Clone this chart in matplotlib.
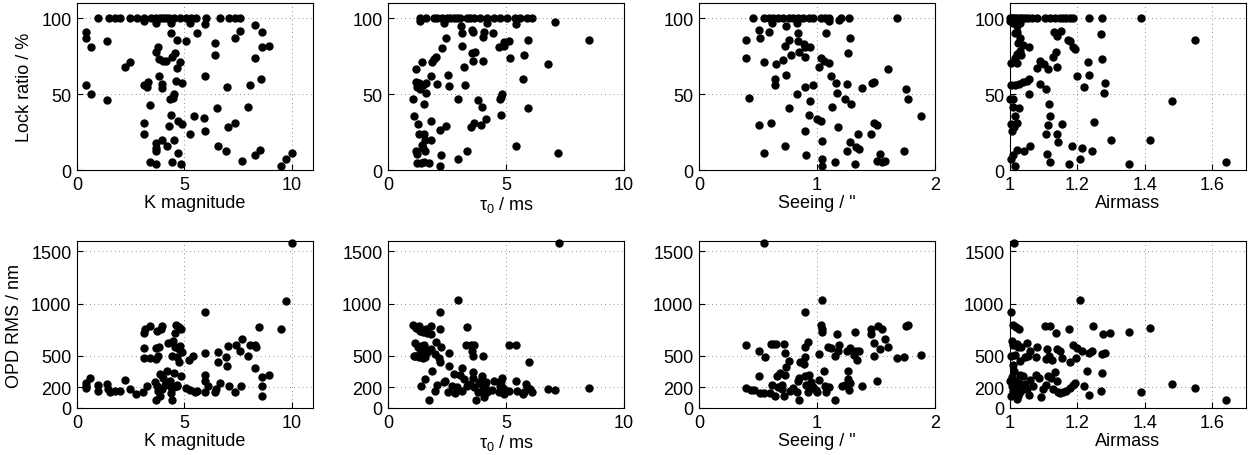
import matplotlib
matplotlib.use("Agg")
import matplotlib.pyplot as plt

plt.rcParams['font.family'] = ['Liberation Sans', 'DejaVu Sans']
plt.rcParams['mathtext.fontset'] = 'custom'
plt.rcParams['mathtext.rm'] = 'Liberation Sans'
plt.rcParams['mathtext.it'] = 'Liberation Sans'
plt.rcParams['font.size'] = 13

# ---- Lock ratio vs K magnitude
lock_k_x = [1.0, 1.5, 1.77, 2.0, 2.46, 2.78, 3.1, 3.47, 3.7, 3.86, 4.0, 4.17, 4.3, 4.5, 4.8, 5.1, 5.33, 5.56, 6.0, 6.65, 7.1, 7.35, 7.6,
            3.1, 3.7, 4.4, 5.26, 5.95,
            0.42, 0.42, 0.64, 0.42, 0.64, 1.38, 1.38, 2.23, 2.46, 3.1, 3.24, 3.3, 3.4, 3.1, 3.1, 3.4, 3.7, 3.67, 3.7, 3.7, 3.98, 4.2,
            3.78, 3.7, 3.8, 4.0, 4.17, 3.83, 3.94, 3.94, 4.33, 4.48, 4.53, 4.6, 4.9, 4.37, 4.64, 4.56, 4.45, 4.8, 4.67, 4.36, 4.28,
            4.71, 4.88, 4.54, 4.73, 4.43, 4.84, 5.1, 5.57, 5.26, 5.44, 5.92, 5.95, 5.98, 6.42, 6.45, 6.53, 6.55, 7.0, 7.04, 7.38,
            6.93, 7.35, 7.6, 7.69, 8.05, 7.98, 8.31, 8.3, 8.6, 8.57, 8.6, 8.95, 8.3, 8.52, 9.52, 9.75, 10.0]
lock_k_y = [100] * 23 + [98, 97, 97, 97, 96,
            91, 87, 81, 56, 50, 85, 46, 68, 71, 56, 55, 58, 43, 31, 24, 5.5, 4, 18, 14.5, 12.5, 19.5, 16,
            81, 78, 73, 72, 72, 62, 56.5, 54, 47, 47.5, 50, 58.5, 57.6, 90.5, 85.5, 77, 74.7, 71, 67, 36, 29,
            32, 30, 19.5, 11, 5, 4, 85, 90, 24, 35.6, 34, 26, 62, 83.5, 76, 41, 15.6, 55, 28, 31,
            12.3, 87, 91.6, 5.7, 55.8, 41.5, 95.4, 73.8, 91, 59.8, 81.3, 81.8, 10, 13, 2.4, 7.3, 11.4]

# ---- Lock ratio vs tau0
lock_t_x = [1.34, 1.62, 1.96, 2.07, 2.29, 2.5, 2.64, 2.78, 2.92, 3.07, 3.35, 3.49, 3.63, 3.91, 4.19, 4.48, 4.76, 5.04, 5.39, 5.6, 5.89, 6.1,
            1.34, 2.36, 4.19, 5.44, 7.09,
            3.1, 3.13, 3.56, 3.6, 4.05, 4.02, 4.44, 2.46, 3.13, 2.29, 2.05, 1.94, 1.85, 1.44, 1.2, 3.2, 3.6, 3.58, 3.7, 4.02,
            4.72, 4.9, 5.14, 4.92, 5.92, 5.77, 5.18, 6.76, 8.5, 5.74, 1.17, 1.31, 1.25, 1.37, 1.48, 1.62, 1.82, 2.07, 2.55, 2.58,
            3.25, 1.04, 1.6, 1.51, 2.98, 3.82, 3.99, 4.8, 4.76, 4.83, 5.95, 1.11, 1.28, 1.83, 2.44, 2.19, 3.63, 3.51, 3.95, 4.15,
            4.78, 1.33, 1.51, 1.55, 1.83, 1.44, 1.48, 1.2, 1.58, 1.25, 2.25, 3.33, 2.96, 1.25, 1.4, 1.51, 1.72, 2.22, 5.42, 7.22]
lock_t_y = [100] * 22 + [98, 97, 97, 96, 97.6,
            95, 90, 92, 91, 91, 87.5, 90, 87, 82, 80.4, 74.7, 73, 71.4, 71, 66.8, 68, 72, 77, 77.6, 72,
            81, 81.8, 85, 84, 85.5, 76, 74, 70, 85.5, 59.8, 58, 57, 55, 53.6, 56, 57.6, 62, 56.5, 62.4, 55.4,
            55.8, 47, 50.8, 43.3, 47, 46, 41.5, 48.4, 46.8, 50.3, 41, 35.6, 30.5, 32, 29, 26.4, 30.8, 28, 29.6, 33.6,
            36, 23.7, 23.7, 19.6, 19.6, 16.5, 14.7, 12.3, 12.3, 10.3, 10, 12.5, 7.5, 4.4, 4.4, 5.3, 4.8, 2.4, 15.8, 11.4]

# ---- Lock ratio vs seeing
lock_s_x = [0.46, 0.55, 0.59, 0.63, 0.67, 0.71, 0.76, 0.8, 0.84, 0.88, 0.93, 0.97, 1.03, 1.07, 1.1, 1.2, 1.27, 1.68,
            0.62, 0.74, 0.83, 1.1, 1.19,
            0.4, 0.51, 0.52, 0.59, 0.4, 0.55, 0.65, 0.71, 0.73, 0.76, 0.78, 0.84, 0.84, 0.85, 0.89, 0.9, 0.94, 0.9, 1.08, 1.02,
            1.03, 1.06, 1.1, 1.28, 1.26, 1.12, 1.16, 1.17, 1.24, 1.25, 1.38, 1.47, 1.48, 1.6, 1.75, 1.77, 1.88, 0.42, 0.64, 0.64,
            0.74, 0.9, 0.97, 0.83, 0.94, 0.76, 1.13, 1.29, 0.51, 0.61, 0.93, 1.0, 1.03, 0.9, 1.18, 1.46, 1.48, 1.51, 1.35, 1.28,
            1.33, 1.36, 1.25, 1.74, 0.73, 1.04, 0.55, 0.91, 1.04, 1.04, 1.15, 1.32, 1.53, 1.51, 1.55, 1.58]
lock_s_y = [100] * 18 + [97, 95, 97, 98, 98.5,
            85.7, 92, 87, 91, 74, 71, 70, 72.3, 81.8, 85.5, 75.8, 90.5, 85, 77.8, 83.3, 81, 81, 74.5, 90, 67.7,
            73.8, 72, 70.8, 86.8, 77, 62, 57.6, 50.8, 46.6, 56.5, 54.3, 57, 58, 66.8, 53.6, 46.8, 35.6, 47.3, 59.8, 55.8,
            62.4, 55, 56.3, 50, 45.7, 41, 41.5, 43.3, 29.7, 30.8, 36, 33.8, 32.3, 25.7, 28, 23.7, 30.8, 29.5, 23.7, 18.5,
            15.4, 14, 12.3, 12.5, 15.8, 19.3, 11.4, 10, 7.5, 2.6, 5, 4, 10.8, 6, 5, 6]

# ---- Lock ratio vs airmass
lock_a_x = [1.0, 1.005, 1.01, 1.015, 1.022, 1.03, 1.037, 1.044, 1.054, 1.064, 1.079, 1.103, 1.118, 1.133, 1.148, 1.158, 1.167,
            1.177, 1.187, 1.234, 1.273, 1.389,
            1.0, 1.01, 1.03, 1.02, 1.015, 1.022,
            1.03, 1.025, 1.039, 1.056, 1.03, 1.022, 1.034, 1.015, 1.002, 1.022, 1.089, 1.101, 1.081, 1.113, 1.13, 1.14, 1.15,
            1.136, 1.128, 1.14, 1.173, 1.178, 1.187, 1.194, 1.2, 1.23, 1.233, 1.22, 1.274, 1.271, 1.283, 1.278, 1.3, 1.414,
            1.481, 1.549, 1.64, 1.352, 1.002, 1.015, 1.028, 1.039, 1.051, 1.056, 1.056, 1.089, 1.108, 1.115, 1.119, 1.113,
            1.106, 1.14, 1.141, 1.153, 1.0, 1.008, 1.01, 1.028, 1.015, 1.003, 1.013, 1.022, 1.005, 1.02, 1.01, 1.041, 1.059,
            1.003, 1.015, 1.11, 1.12, 1.175, 1.185, 1.207, 1.215, 1.244, 1.248]
lock_a_y = [100] * 22 + [98, 97, 97, 95, 90.5, 91,
            87, 83.5, 82.4, 81, 78.5, 76.3, 75.8, 74, 70.8, 70.8, 72, 70, 67, 66.8, 91, 88, 91.6,
            77.4, 74.5, 68, 85.5, 85, 81, 80, 62, 71.4, 62.4, 54.7, 73.4, 89.5, 57.6, 50.5, 19.8, 19.8,
            45.5, 85.5, 5, 4, 55.8, 55.8, 56.5, 58, 58.7, 60, 50, 56.5, 53.6, 43.3, 35.8, 29.5,
            23.7, 23.7, 18.7, 30.5, 47, 47, 41.5, 41, 35.6, 30, 28.4, 30.8, 25.7, 13, 10, 12.3, 15.6,
            7, 2.6, 10.8, 5.5, 4.2, 15.8, 7.5, 14.3, 12.3, 31.9]

# ---- OPD RMS vs K magnitude
opd_k_x = [10.0, 9.75, 9.52, 8.5, 5.98, 0.4, 0.4, 0.6, 0.42, 1.0, 1.0, 1.38, 1.43, 1.55, 1.77, 2.0, 2.22, 2.46, 2.74, 3.08,
           3.24, 3.1, 3.13, 3.1, 3.18, 3.4, 3.4, 3.73, 3.7, 3.83, 3.95, 3.9, 3.78, 3.66, 3.67, 3.63, 3.74, 3.78, 3.86, 3.89,
           3.94, 4.0, 4.1, 4.19, 4.25, 4.33, 4.36, 4.4, 4.45, 4.45, 4.48, 4.5, 4.54, 4.56, 4.6, 4.56, 4.67, 4.68, 4.74, 4.74,
           4.79, 4.76, 4.87, 4.91, 4.87, 4.64, 5.1, 5.26, 5.23, 5.41, 5.49, 5.61, 5.97, 5.98, 5.98, 5.98, 6.1, 6.42, 6.5,
           6.57, 6.57, 6.65, 7.04, 6.96, 7.0, 7.09, 7.35, 7.4, 7.6, 7.63, 7.67, 7.97, 8.05, 8.28, 8.33, 8.28, 8.6, 8.6, 8.6, 8.95]
opd_k_y = [1578, 1029, 757, 773, 920, 236, 192, 288, 214, 224, 163, 230, 182, 150, 160, 163, 265, 182, 134, 153,
           214, 575, 480, 719, 757, 783, 480, 735, 575, 582, 783, 757, 502, 470, 80, 246, 214, 160, 112, 326,
           182, 288, 224, 355, 623, 262, 198, 144, 80, 502, 646, 335, 198, 588, 792, 716, 224, 486, 780, 566,
           598, 438, 757, 534, 310, 214, 192, 176, 463, 502, 157, 166, 150, 524, 320, 256, 214, 157, 182,
           444, 540, 240, 598, 486, 406, 214, 150, 604, 550, 214, 661, 502, 607, 604, 588, 383, 294, 214, 112, 316]

# ---- OPD RMS vs tau0
opd_t_x = [7.23, 2.95, 2.19, 3.33, 1.05, 1.3, 1.19, 1.34, 1.48, 1.62, 1.84, 1.65, 2.22, 1.82, 1.16, 1.26, 1.41, 1.51, 1.58,
           1.44, 1.37, 1.09, 1.16, 1.3, 1.48, 1.58, 1.65, 1.84, 2.05, 2.26, 2.0, 2.15, 2.22, 2.57, 2.57, 1.86, 1.55, 1.4, 1.72,
           1.98, 2.07, 2.36, 2.43, 2.54, 2.71, 2.78, 2.82, 2.92, 3.04, 3.13, 3.14, 3.21, 3.29, 3.35, 3.49, 3.52, 3.55, 3.59,
           3.59, 3.59, 3.63, 3.66, 3.73, 3.81, 3.84, 3.93, 3.98, 4.01, 4.03, 4.05, 4.12, 4.15, 4.19, 4.41, 4.48, 4.69, 4.73,
           4.8, 4.83, 4.83, 4.9, 4.93, 5.11, 5.14, 5.44, 5.44, 5.47, 5.71, 5.78, 5.86, 5.89, 5.96, 6.03, 6.1, 6.77, 7.09, 8.52]
opd_t_y = [1578, 1032, 920, 773, 796, 789, 764, 741, 725, 757, 789, 719, 757, 709, 620, 588, 598, 607, 566,
           550, 524, 502, 495, 486, 480, 486, 534, 566, 629, 588, 518, 476, 438, 524, 406, 351, 278, 214, 80,
           163, 220, 246, 262, 150, 214, 329, 141, 198, 316, 383, 166, 278, 604, 208, 230, 604, 543, 502,
           342, 284, 604, 204, 80, 150, 246, 230, 310, 502, 172, 109, 208, 252, 150, 172, 262, 150, 214,
           256, 284, 198, 134, 182, 604, 166, 604, 256, 166, 134, 150, 227, 198, 444, 182, 150, 182, 172, 188]

# ---- OPD RMS vs seeing
opd_s_x = [0.55, 1.04, 0.9, 0.4, 0.51, 0.56, 0.51, 0.4, 0.44, 0.47, 0.52, 0.55, 0.6, 0.62, 0.63, 0.61, 0.65, 0.66, 0.64,
           0.69, 0.7, 0.72, 0.72, 0.73, 0.73, 0.74, 0.76, 0.67, 0.7, 0.77, 0.8, 0.83, 0.85, 0.86, 0.89, 0.9, 0.9, 0.92,
           0.84, 0.85, 0.9, 0.91, 0.93, 0.92, 0.93, 0.95, 0.97, 0.99, 1.0, 1.02, 1.03, 1.04, 1.04, 1.02, 1.06, 1.07, 1.08,
           1.1, 1.09, 1.12, 1.15, 1.17, 1.18, 1.19, 1.15, 1.21, 1.24, 1.25, 1.26, 1.26, 1.27, 1.28, 1.28, 1.31, 1.32, 1.33,
           1.34, 1.36, 1.38, 1.46, 1.46, 1.48, 1.48, 1.52, 1.51, 1.53, 1.55, 1.58, 1.6, 1.68, 1.74, 1.75, 1.77, 1.88]
opd_s_y = [1578, 1032, 920, 604, 543, 492, 310, 188, 176, 169, 144, 144, 144, 220, 614, 614, 610, 310, 118,
           332, 182, 614, 118, 316, 527, 390, 447, 198, 224, 166, 188, 157, 80, 438, 419, 492, 588, 629,
           262, 288, 310, 224, 316, 150, 198, 246, 198, 172, 150, 268, 796, 757, 725, 518, 351, 214, 150,
           204, 588, 572, 495, 709, 550, 604, 80, 214, 224, 543, 358, 278, 172, 240, 572, 511, 732, 550,
           463, 543, 214, 757, 709, 495, 620, 789, 262, 566, 757, 661, 582, 480, 486, 789, 799, 508]

# ---- OPD RMS vs airmass
opd_a_x = [1.012, 1.207, 1.003, 1.008, 1.018, 1.027, 1.103, 1.12, 1.136, 1.175, 1.246, 1.276, 1.298, 1.352, 1.416, 1.481,
           1.549, 1.64, 1.389, 1.234, 1.271, 1.273, 1.229, 1.22, 1.005, 1.008, 1.022, 1.025, 1.034, 1.051, 1.059, 1.081,
           1.002, 1.015, 1.03, 1.044, 1.054, 1.01, 1.077, 1.108, 1.11, 1.116, 1.126, 1.138, 1.148, 1.155, 1.177, 1.187,
           1.195, 1.2, 1.215, 1.234, 1.243, 1.274, 1.281, 1.0, 1.005, 1.01, 1.015, 1.02, 1.025, 1.03, 1.034, 1.039, 1.044,
           1.049, 1.057, 1.03, 1.039, 1.059, 1.069, 1.077, 1.087, 1.092, 1.099, 1.108, 1.113, 1.123, 1.128, 1.133, 1.138,
           1.143, 1.148, 1.158, 1.167, 1.177, 1.187, 1.194, 1.005, 1.015, 1.022, 1.012, 1.015, 1.028, 1.003]
opd_a_y = [1578, 1032, 923, 796, 773, 757, 789, 783, 716, 757, 789, 709, 722, 732, 764, 230,
           188, 80, 150, 125, 163, 335, 351, 214, 646, 604, 614, 588, 582, 623, 550, 582,
           502, 508, 454, 486, 495, 415, 486, 470, 566, 502, 460, 566, 543, 480, 438, 604,
           480, 572, 550, 524, 543, 518, 527, 262, 214, 166, 134, 86, 118, 150, 214, 182, 230,
           182, 125, 316, 310, 268, 214, 316, 284, 109, 182, 220, 310, 284, 182, 342, 262,
           150, 144, 150, 166, 188, 220, 236, 294, 262, 224, 358, 198, 240, 118]

panels = [
    (lock_k_x, lock_k_y, (0, 11), [0, 5, 10], ['0', '5', '10'], 'K magnitude'),
    (lock_t_x, lock_t_y, (0, 10), [0, 5, 10], ['0', '5', '10'], r'$\tau_0$ / ms'),
    (lock_s_x, lock_s_y, (0, 2), [0, 1, 2], ['0', '1', '2'], 'Seeing / "'),
    (lock_a_x, lock_a_y, (1, 1.7), [1, 1.2, 1.4, 1.6], ['1', '1.2', '1.4', '1.6'], 'Airmass'),
    (opd_k_x, opd_k_y, (0, 11), [0, 5, 10], ['0', '5', '10'], 'K magnitude'),
    (opd_t_x, opd_t_y, (0, 10), [0, 5, 10], ['0', '5', '10'], r'$\tau_0$ / ms'),
    (opd_s_x, opd_s_y, (0, 2), [0, 1, 2], ['0', '1', '2'], 'Seeing / "'),
    (opd_a_x, opd_a_y, (1, 1.7), [1, 1.2, 1.4, 1.6], ['1', '1.2', '1.4', '1.6'], 'Airmass'),
]

W, H = 1252, 456
fig = plt.figure(figsize=(W / 100, H / 100), dpi=100)
lefts = [77, 388, 699, 1010]
tops = [4, 242]

for i, (xs, ys, xlim, xt, xtl, xlabel) in enumerate(panels):
    row, col = divmod(i, 4)
    ax = fig.add_axes([lefts[col] / W, (H - tops[row] - 167) / H, 236 / W, 167 / H])
    ax.plot(xs, ys, 'o', color='black', markersize=5, zorder=3, clip_on=False)
    ax.set_xlim(*xlim)
    ax.set_xticks(xt)
    ax.set_xticklabels(xtl)
    if row == 0:
        ax.set_ylim(0, 110)
        ax.set_yticks([0, 50, 100])
    else:
        ax.set_ylim(0, 1600)
        ax.set_yticks([0, 200, 500, 1000, 1500])
    ax.grid(True, linestyle=(0, (1, 4)), color='black', linewidth=0.6, alpha=0.6)
    ax.tick_params(direction='in', length=4, width=0.8, labelsize=13, pad=4)
    for s in ax.spines.values():
        s.set_linewidth(0.8)
    ax.set_xlabel(xlabel, fontsize=13, labelpad=1)
    if col == 0:
        ax.set_ylabel('Lock ratio / %' if row == 0 else 'OPD RMS / nm', fontsize=13, labelpad=6)

fig.savefig('out.png', dpi=100)
